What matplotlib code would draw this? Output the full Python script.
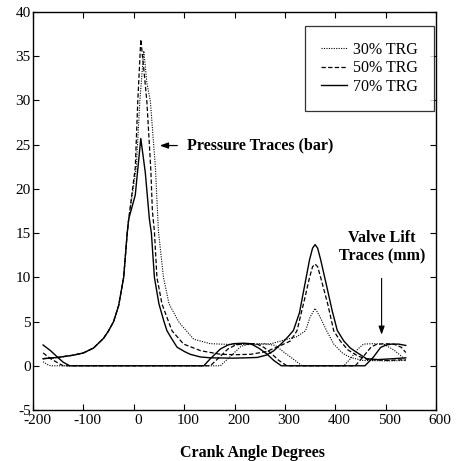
import matplotlib
matplotlib.use('Agg')
import matplotlib.pyplot as plt
import matplotlib.transforms as mtransforms

plt.rcParams['font.family'] = ['Liberation Serif', 'DejaVu Serif']
plt.rcParams['axes.unicode_minus'] = False

# Cylinder pressure traces (bar)
p70_x = [-180, -150, -120, -100, -80, -60, -50, -40, -30, -20, -13, -10, 3, 14, 23, 31, 35, 41, 50, 60,
         66, 76, 86, 101, 112, 132, 152, 177, 198, 223, 245, 263, 278, 293, 305, 317, 329, 339, 349, 355,
         360, 365, 371, 383, 394, 404, 417, 430, 443, 462, 485, 515, 540]
p70_y = [0.8, 0.95, 1.2, 1.45, 2.0, 3.1, 3.95, 5.0, 6.8, 10.0, 15.0, 16.6, 19.3, 25.7, 21.8, 16.6, 15.0, 10.0, 7.0, 5.0,
         3.95, 3.0, 2.1, 1.6, 1.3, 1.0, 0.9, 0.88, 0.86, 0.9, 0.94, 1.2, 1.7, 2.5, 3.2, 4.0, 6.0, 9.0, 12.0, 13.3,
         13.7, 13.3, 12.0, 9.0, 6.2, 4.0, 2.8, 2.0, 1.5, 0.8, 0.7, 0.8, 0.9]

p50_x = [-180, -150, -120, -100, -80, -60, -50, -40, -30, -20, -13, -10, 3, 8, 14, 20, 26, 31, 34, 37,
         41, 46, 56, 69, 76, 99, 133, 172, 202, 232, 263, 288, 311, 324, 339, 349, 355, 360, 365, 371, 385, 397,
         410, 425, 445, 465, 505, 540]
p50_y = [0.8, 0.95, 1.2, 1.45, 2.0, 3.1, 3.95, 5.0, 6.8, 10.0, 15.0, 16.6, 22.4, 29.9, 36.9, 33.5, 29.9, 25.0, 22.0, 17.5,
         15.2, 10.0, 7.0, 5.0, 3.95, 2.45, 1.7, 1.3, 1.25, 1.3, 1.6, 2.2, 2.8, 3.95, 7.5, 10.0, 11.2, 11.5, 11.2, 10.0, 7.0, 3.95,
         2.8, 1.8, 1.1, 0.7, 0.6, 0.7]

p30_x = [-180, -150, -120, -100, -80, -60, -50, -40, -30, -20, -13, -10, 5, 12, 20, 26, 33, 43, 49, 59,
         70, 89, 93, 119, 152, 172, 202, 243, 273, 298, 324, 341, 350, 360, 370, 383, 397, 415, 430, 455,
         505, 540]
p30_y = [0.8, 0.95, 1.2, 1.45, 2.0, 3.1, 3.95, 5.0, 6.8, 10.0, 15.0, 16.6, 22.4, 29.9, 35.6, 32.0, 29.9, 22.4, 15.2, 10.0,
         7.0, 5.0, 4.7, 3.0, 2.5, 2.45, 2.4, 2.4, 2.5, 2.9, 3.3, 3.95, 5.5, 6.5, 5.5, 3.95, 2.45, 1.4, 0.94, 0.6,
         0.55, 0.6]

# Valve lift traces (mm)
v70_x = [-180, -165, -150, -140, -127, 139, 152, 172, 187, 198, 218, 232, 248, 265, 278, 293,
         459, 476, 490, 501, 511, 526, 540]
v70_y = [2.35, 1.7, 0.9, 0.4, 0, 0, 0.8, 1.9, 2.35, 2.5, 2.55, 2.5, 2.0, 1.3, 0.6, 0,
         0, 1.0, 2.07, 2.35, 2.45, 2.45, 2.3]

v50_x = [-180, -165, -150, -140, 152, 167, 187, 202, 218, 243, 258, 273, 288, 304,
         440, 455, 471, 481, 496, 516, 531, 540]
v50_y = [1.45, 0.8, 0.3, 0, 0, 0.8, 1.9, 2.35, 2.5, 2.5, 2.1, 1.4, 0.6, 0,
         0, 1.0, 2.1, 2.4, 2.5, 2.45, 2.1, 1.5]

v30_x = [-180, -170, -165, 172, 187, 213, 228, 258, 281, 299, 318, 334,
         417, 430, 445, 456, 476, 496, 516, 531, 540]
v30_y = [0.45, 0.1, 0, 0, 0.8, 2.2, 2.45, 2.5, 2.3, 1.5, 0.7, 0,
         0, 0.8, 1.9, 2.45, 2.5, 2.45, 1.8, 1.1, 0.56]

labels = ['30% TRG', '50% TRG', '70% TRG']

fig = plt.figure(figsize=(4.58, 4.61), dpi=100)
ax = fig.add_axes([33/458, 51/461, 403/458, 398/461])

dot = dict(color='k', lw=0.8, linestyle=(0, (1, 1.2)))
dash = dict(color='k', lw=0.9, linestyle=(0, (3.5, 1.8)))
sol = dict(color='k', lw=1.0, linestyle='-')

l30, = ax.plot(p30_x, p30_y, **dot)
l50, = ax.plot(p50_x, p50_y, **dash)
l70, = ax.plot(p70_x, p70_y, **sol)
ax.plot(v30_x, v30_y, **dot)
ax.plot(v50_x, v50_y, **dash)
ax.plot(v70_x, v70_y, **sol)

ax.set_xlim(-200, 600)
ax.set_ylim(-5, 40)
ax.set_xticks(range(-200, 601, 100))
ax.set_yticks(range(-5, 41, 5))
ax.tick_params(direction='in', top=True, right=True, length=4, width=0.8, labelsize=11)
ax.tick_params(axis='x', pad=3)
ax.tick_params(axis='y', pad=1.5)
for s in ax.spines.values():
    s.set_linewidth(1.0)

shift = mtransforms.ScaledTranslation(4/100, 0, fig.dpi_scale_trans)
for lab in ax.get_xticklabels():
    lab.set_transform(lab.get_transform() + shift)

leg = ax.legend([l30, l50, l70], labels, loc='upper right', bbox_to_anchor=(0.995, 0.965),
                fontsize=11.5, frameon=True, fancybox=False, borderpad=1.0, handlelength=1.6,
                handletextpad=0.4, labelspacing=0.15, borderaxespad=0)
leg.get_frame().set_edgecolor('k')
leg.get_frame().set_linewidth(0.9)

ax.annotate('', xy=(46, 24.9), xytext=(92, 24.9),
            arrowprops=dict(arrowstyle='-|>,head_length=0.5,head_width=0.18', color='k', lw=0.9))
ax.text(106, 24.9, 'Pressure Traces (bar)', fontsize=11.5, fontweight='bold', va='center', ha='left')

ax.text(493, 13.4, 'Valve Lift\nTraces (mm)', fontsize=11.5, fontweight='bold', ha='center', va='center',
        linespacing=1.25)
ax.annotate('', xy=(492, 3.2), xytext=(492, 10.2),
            arrowprops=dict(arrowstyle='-|>,head_length=0.5,head_width=0.18', color='k', lw=0.8))

fig.text(252.5/458, 1 - 457/461, 'Crank Angle Degrees', fontsize=11.5, fontweight='bold',
         ha='center', va='baseline')

fig.savefig('out.png', dpi=100)
